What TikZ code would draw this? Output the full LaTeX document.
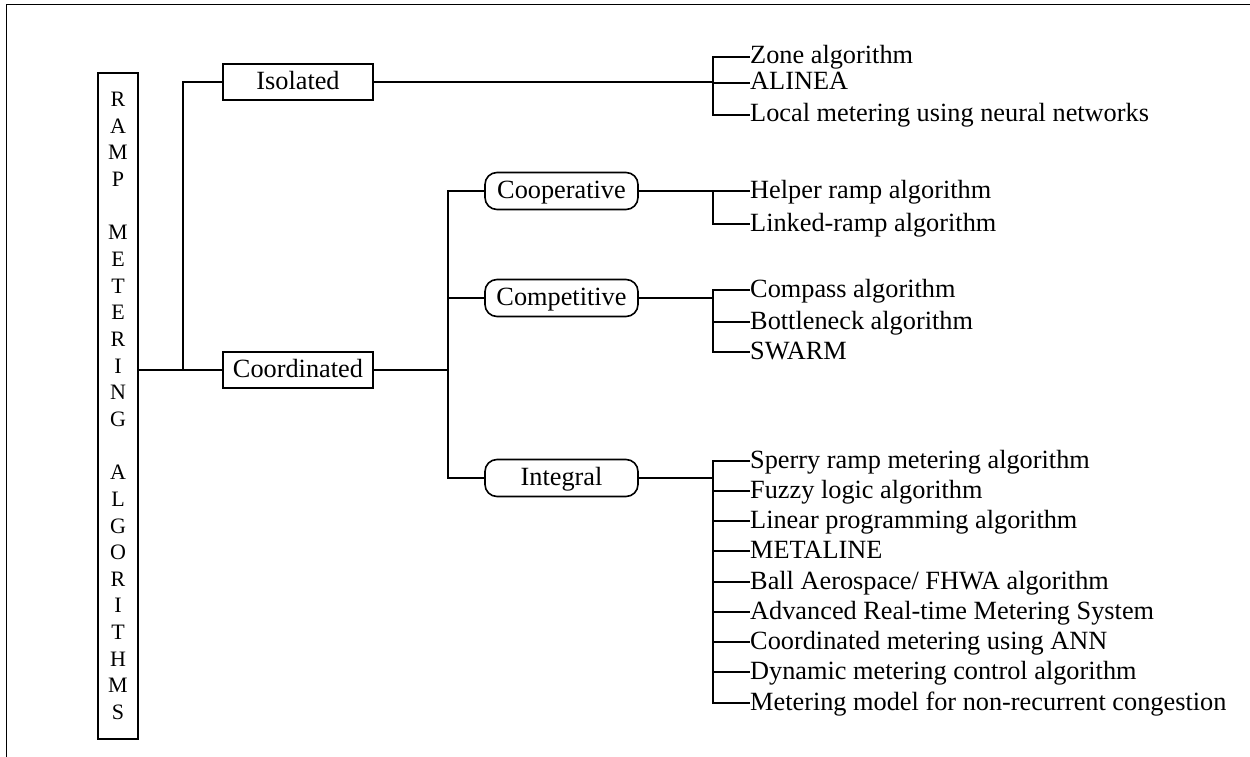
\documentclass[tikz,border=0pt]{standalone}
\usepackage{fontspec}
\setmainfont{Liberation Serif}
\begin{document}
\begin{tikzpicture}
    [x=1pt,y=-1pt,
     wire/.style={line width=1.3pt},
     catbox/.style={draw=black,line width=2pt,minimum width=150pt,minimum height=36pt,inner sep=0pt,text height=15pt,text depth=0pt,font=\fontsize{26.3}{30}\selectfont},
     subbox/.style={draw=black,line width=1.6pt,rounded corners=12pt,minimum width=153pt,minimum height=37pt,inner sep=0pt,text height=15pt,text depth=0pt,font=\fontsize{26.3}{30}\selectfont},
     leaf/.style={anchor=west,inner sep=0pt,text height=14pt,text depth=0pt,font=\fontsize{26.3}{30}\selectfont}]
    \useasboundingbox (0,0) rectangle (1250,757);
    \draw [line width=1.3pt] (6.5,757) |- (1250,4.5);
    % root
    \node [draw=black,line width=2pt,minimum width=40pt,minimum height=666pt,inner sep=0pt,align=center,font=\fontsize{22}{26.65}\selectfont] (root) at (118,406)
      {R\\A\\M\\P\\[26.65pt]M\\E\\T\\E\\R\\I\\N\\G\\[26.65pt]A\\L\\G\\O\\R\\I\\T\\H\\M\\S};
    % first level
    \node [catbox] (iso) at (298,82) {Isolated};
    \node [catbox] (coord) at (298,370) {Coordinated};
    \coordinate (jroot) at (183,370);
    \draw [wire] (root.east |- coord.west) -- (coord.west);
    \draw [wire] (jroot) |- (iso.west);
    % second level
    \node [subbox] (coop) at (561.5,191) {Cooperative};
    \node [subbox] (comp) at (561.5,298) {Competitive};
    \node [subbox] (integ) at (561.5,478) {Integral};
    \coordinate (jcoord) at (448,370);
    \draw [wire] (coord.east) -- (jcoord);
    \draw [wire] (coop.west) -| (jcoord) |- (integ.west);
    \draw [wire] (jcoord |- comp.west) -- (comp.west);
    % isolated algorithms
    \node [leaf] (z1) at (750,57) {Zone algorithm};
    \node [leaf] (z2) at (750,83) {ALINEA};
    \node [leaf] (z3) at (750,115) {Local metering using neural networks};
    \coordinate (jiso) at (713,82);
    \draw [wire] (iso.east) -- (jiso);
    \draw [wire] (z1.west) -| (jiso) |- (z3.west);
    \draw [wire] (jiso |- z2.west) -- (z2.west);
    % cooperative algorithms
    \node [leaf] (h1) at (750,191) {Helper ramp algorithm};
    \node [leaf] (h2) at (750,224) {Linked-ramp algorithm};
    \coordinate (jcoop) at (713,191);
    \draw [wire] (coop.east) -- (h1.west);
    \draw [wire] (jcoop) |- (h2.west);
    % competitive algorithms
    \node [leaf] (c1) at (750,290) {Compass algorithm};
    \node [leaf] (c2) at (750,322) {Bottleneck algorithm};
    \node [leaf] (c3) at (750,352) {SWARM};
    \coordinate (jcomp) at (713,298);
    \draw [wire] (comp.east) -- (jcomp);
    \draw [wire] (c1.west) -| (jcomp) |- (c3.west);
    \draw [wire] (jcomp |- c2.west) -- (c2.west);
    % integral algorithms
    \node [leaf] (i1) at (750,461) {Sperry ramp metering algorithm};
    \node [leaf] (i2) at (750,491) {Fuzzy logic algorithm};
    \node [leaf] (i3) at (750,521) {Linear programming algorithm};
    \node [leaf] (i4) at (750,551) {METALINE};
    \node [leaf] (i5) at (750,582) {Ball Aerospace/ FHWA algorithm};
    \node [leaf] (i6) at (750,612) {Advanced Real-time Metering System};
    \node [leaf] (i7) at (750,642) {Coordinated metering using ANN};
    \node [leaf] (i8) at (750,672) {Dynamic metering control algorithm};
    \node [leaf] (i9) at (750,703) {Metering model for non-recurrent congestion};
    \coordinate (jint) at (713,478);
    \draw [wire] (integ.east) -- (jint);
    \draw [wire] (i1.west) -| (jint) |- (i9.west);
    \draw [wire] (jint |- i2.west) -- (i2.west) (jint |- i3.west) -- (i3.west)
      (jint |- i4.west) -- (i4.west) (jint |- i5.west) -- (i5.west)
      (jint |- i6.west) -- (i6.west) (jint |- i7.west) -- (i7.west)
      (jint |- i8.west) -- (i8.west);
  \end{tikzpicture}
\end{document}
